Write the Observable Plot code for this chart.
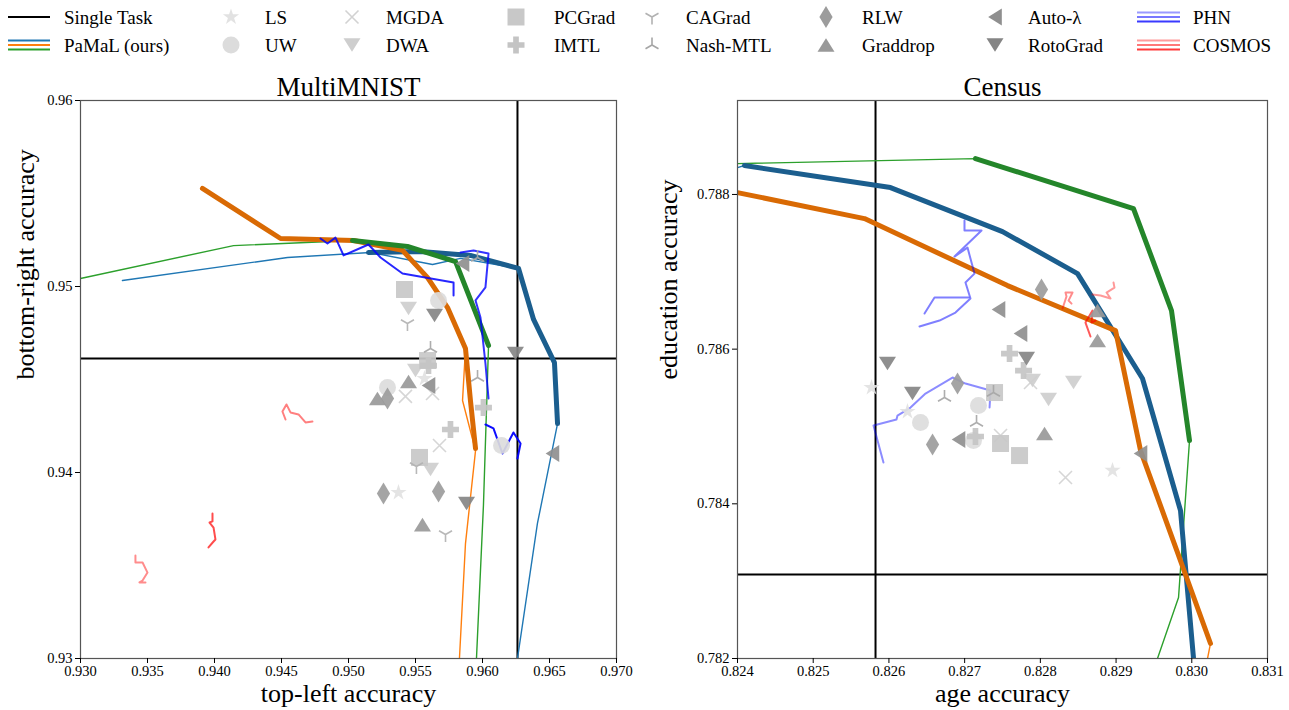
<!DOCTYPE html>
<html><head><meta charset="utf-8">
<script src="https://cdn.jsdelivr.net/npm/d3@7"></script>
<script src="https://cdn.jsdelivr.net/npm/@observablehq/plot@0.6"></script>
<style>
body{margin:0;background:#fff;}
#root{position:relative;width:1289px;height:710px;overflow:hidden;font-family:"Liberation Serif",serif;background:#fff;}
#root svg, #root svg text{font-family:"Liberation Serif",serif !important;}
#legend{position:absolute;left:0;top:0;}
#left{position:absolute;left:0;top:66px;}
#right{position:absolute;left:640px;top:66px;}
</style></head><body>
<div id="root"><div id="legend"></div><div id="left"></div><div id="right"></div></div>
<script>
// ---------------- DATA ----------------
const methods = ["LS","UW","MGDA","DWA","PCGrad","IMTL","CAGrad","Nash-MTL","RLW","Graddrop","Auto-λ","RotoGrad"];

// MultiMNIST: [top-left accuracy, bottom-right accuracy]
const mnistXTicks = [0.930,0.935,0.940,0.945,0.950,0.955,0.960,0.965,0.970];
const mnistYTicks = [0.93,0.94,0.95,0.96];
const mnistSingleTask = [0.96261, 0.94613];
const mnistPamalThinBlue = [[0.93313,0.95032],[0.94545,0.95156],[0.95164,0.95183],[0.95627,0.95118],[0.95836,0.95151],[0.96269,0.95097],[0.96381,0.94823],[0.96537,0.94591],[0.96560,0.94263],[0.96410,0.93726],[0.96261,0.93000]];
const mnistPamalThickBlue = [[0.95149,0.95183],[0.95537,0.95188],[0.95910,0.95167],[0.96269,0.95097],[0.96381,0.94823],[0.96537,0.94591],[0.96560,0.94263]];
const mnistPamalThinOrange = [[0.93910,0.95527],[0.94493,0.95258],[0.95037,0.95247],[0.95403,0.95194],[0.95590,0.95048],[0.95739,0.94887],[0.95873,0.94667],[0.95851,0.94387],[0.95948,0.94118],[0.95873,0.93618],[0.95828,0.93000]];
const mnistPamalThickOrange = [[0.93910,0.95527],[0.94493,0.95258],[0.95037,0.95247],[0.95403,0.95194],[0.95590,0.95048],[0.95739,0.94887],[0.95873,0.94667],[0.95910,0.94387],[0.95948,0.94129]];
const mnistPamalThinGreen = [[0.93000,0.95043],[0.94142,0.95220],[0.95030,0.95247],[0.95440,0.95215],[0.95799,0.95134],[0.96045,0.94683],[0.96007,0.93823],[0.95955,0.93000]];
const mnistPamalThickGreen = [[0.95030,0.95247],[0.95440,0.95215],[0.95799,0.95134],[0.96045,0.94683]];
const mnistPHN1 = [[0.94791,0.95258],[0.94843,0.95231],[0.94903,0.95263],[0.94963,0.95167],[0.95149,0.95226],[0.95239,0.95156],[0.95403,0.95070],[0.95784,0.95022],[0.95784,0.94952]];
const mnistPHN2 = [[0.95836,0.95183],[0.95933,0.95194],[0.96045,0.95177],[0.96022,0.94995],[0.95948,0.94925],[0.95985,0.94833],[0.96022,0.94586],[0.96045,0.94398]];
const mnistPHN3 = [[0.96022,0.94258],[0.96082,0.94237],[0.96149,0.94102],[0.96231,0.94215],[0.96284,0.94156],[0.96261,0.94075]];
const mnistCOSMOS1 = [[0.94530,0.94285],[0.94507,0.94328],[0.94537,0.94366],[0.94567,0.94323],[0.94627,0.94312],[0.94679,0.94269],[0.94731,0.94274]];
const mnistCOSMOS2 = [[0.93985,0.93780],[0.93985,0.93737],[0.93963,0.93731],[0.93993,0.93704],[0.94007,0.93640],[0.93993,0.93629],[0.93955,0.93597]];
const mnistCOSMOS3 = [[0.93410,0.93554],[0.93410,0.93516],[0.93463,0.93516],[0.93500,0.93462],[0.93463,0.93419],[0.93440,0.93409],[0.93485,0.93409]];
const mnistLS = [[0.95373,0.93892],[0.95567,0.94505]];
const mnistUW = [[0.95672,0.94925],[0.95291,0.94457],[0.96142,0.94145]];
const mnistMGDA = [[0.95425,0.94409],[0.95627,0.94425],[0.95679,0.94145]];
const mnistDWA = [[0.95448,0.94882],[0.95500,0.94548],[0.95612,0.94016]];
const mnistPCGrad = [[0.95418,0.94984],[0.95590,0.94602],[0.95530,0.94081]];
const mnistIMTL = [[0.95597,0.94575],[0.95761,0.94231],[0.96007,0.94349]];
const mnistCAGrad = [[0.95440,0.94801],[0.95507,0.94032],[0.95724,0.93667]];
const mnistNash = [[0.95612,0.94667],[0.95963,0.95156],[0.95963,0.94511]];
const mnistRLW = [[0.95291,0.94398],[0.95261,0.93887],[0.95672,0.93898]];
const mnistGraddrop = [[0.95216,0.94398],[0.95448,0.94489],[0.95552,0.93720]];
const mnistAutoL = [[0.95851,0.95124],[0.95597,0.94468],[0.96522,0.94102]];
const mnistRotoGrad = [[0.95642,0.94844],[0.96246,0.94640],[0.95881,0.93833]];

// Census: [age accuracy, education accuracy]
const censusXTicks = [0.824,0.825,0.826,0.827,0.828,0.829,0.830,0.831];
const censusYTicks = [0.782,0.784,0.786,0.788];
const censusSingleTask = [0.825823, 0.783086];
const censusPamalThinBlue = [[0.824000,0.788348],[0.824092,0.788374],[0.826021,0.788089],[0.827500,0.787520],[0.828491,0.786977],[0.829349,0.785620],[0.829851,0.783913],[0.830023,0.782000]];
const censusPamalThickBlue = [[0.824092,0.788374],[0.826021,0.788089],[0.827500,0.787520],[0.828491,0.786977],[0.829349,0.785620],[0.829851,0.783913],[0.830023,0.782000]];
const censusPamalThinOrange = [[0.824000,0.788024],[0.825677,0.787688],[0.827566,0.786822],[0.828993,0.786240],[0.829323,0.784689],[0.830247,0.782194],[0.830208,0.782000]];
const censusPamalThickOrange = [[0.824000,0.788024],[0.825677,0.787688],[0.827566,0.786822],[0.828993,0.786240],[0.829323,0.784689],[0.830247,0.782194]];
const censusPamalThinGreen = [[0.824000,0.788399],[0.827143,0.788464],[0.829230,0.787818],[0.829732,0.786499],[0.829970,0.784818],[0.829825,0.782789],[0.829547,0.782000]];
const censusPamalThickGreen = [[0.827143,0.788464],[0.829230,0.787818],[0.829732,0.786499],[0.829970,0.784818]];
const censusPHN1 = [[0.826998,0.787662],[0.826998,0.787533],[0.827223,0.787533],[0.826866,0.787197],[0.827038,0.787313],[0.827130,0.786977],[0.827011,0.786861],[0.827077,0.786654],[0.826879,0.786473],[0.826668,0.786370],[0.826404,0.786292]];
const censusPHN1b = [[0.826470,0.786460],[0.826602,0.786667],[0.827051,0.786667]];
const censusPHN2 = [[0.825928,0.784534],[0.825796,0.785012],[0.826100,0.785090],[0.826113,0.785141],[0.826285,0.785245],[0.826483,0.785426],[0.826840,0.785633],[0.827011,0.785555],[0.827342,0.785465],[0.827329,0.785245]];
const censusCOSMOS1 = [[0.828293,0.786525],[0.828345,0.786680],[0.828332,0.786732],[0.828425,0.786732],[0.828372,0.786628],[0.828412,0.786589]];
const censusCOSMOS2 = [[0.828662,0.786163],[0.828596,0.786344],[0.828689,0.786499],[0.828676,0.786344],[0.828728,0.786370]];
const censusCOSMOS3 = [[0.828689,0.786706],[0.828795,0.786693],[0.828927,0.786654],[0.828874,0.786732],[0.828979,0.786796],[0.828966,0.786861]];
const censusLS = [[0.825770,0.785504],[0.826245,0.785193],[0.828953,0.784431]];
const censusUW = [[0.826417,0.785051],[0.827183,0.785271],[0.827117,0.784818]];
const censusMGDA = [[0.827474,0.784883],[0.827870,0.785568],[0.828332,0.784340]];
const censusDWA = [[0.827896,0.785594],[0.828108,0.785348],[0.828438,0.785568]];
const censusPCGrad = [[0.827395,0.785439],[0.827474,0.784780],[0.827725,0.784624]];
const censusIMTL = [[0.827593,0.785943],[0.827778,0.785723],[0.827143,0.784870]];
const censusCAGrad = [];
const censusNash = [[0.826734,0.785374],[0.827157,0.785051],[0.827381,0.785439]];
const censusRLW = [[0.826906,0.785555],[0.826576,0.784767],[0.828015,0.786771]];
const censusGraddrop = [[0.828055,0.784909],[0.828755,0.786111],[0.828755,0.786499]];
const censusAutoL = [[0.827447,0.786512],[0.827738,0.786202],[0.826919,0.784831],[0.829323,0.784650]];
const censusRotoGrad = [[0.825981,0.785814],[0.826311,0.785426],[0.827817,0.785878]];

// ---------------- SYMBOLS ----------------
function hOf(size){ return Math.sqrt(size/Math.PI); }
function poly(pts){ return {draw(ctx,size){const h=hOf(size);ctx.moveTo(pts[0][0]*h,pts[0][1]*h);for(let i=1;i<pts.length;i++)ctx.lineTo(pts[i][0]*h,pts[i][1]*h);ctx.closePath();}}; }
function spokes(pts){ return {draw(ctx,size){const h=hOf(size);for(const [a,b] of pts){ctx.moveTo(0,0);ctx.lineTo(a*h,b*h);}}}; }
const starPts = d3.range(10).map(i=>{const a=-Math.PI/2+i*Math.PI/5;const r=i%2?0.382:1;return [r*Math.cos(a),r*Math.sin(a)];});
const SYM = {
  star: poly(starPts),
  circle: {draw(ctx,size){const h=hOf(size);ctx.moveTo(h,0);ctx.arc(0,0,h,0,2*Math.PI);}},
  times: {draw(ctx,size){const h=hOf(size);ctx.moveTo(-h,-h);ctx.lineTo(h,h);ctx.moveTo(-h,h);ctx.lineTo(h,-h);}},
  triDown: poly([[0,0.8],[-1,-0.8],[1,-0.8]]),
  triUp: poly([[0,-0.8],[-1,0.8],[1,0.8]]),
  triLeft: poly([[-0.8,0],[0.8,-1],[0.8,1]]),
  square: poly([[-1,-1],[1,-1],[1,1],[-1,1]]),
  plus: poly([[-1/3,-1],[1/3,-1],[1/3,-1/3],[1,-1/3],[1,1/3],[1/3,1/3],[1/3,1],[-1/3,1],[-1/3,1/3],[-1,1/3],[-1,-1/3],[-1/3,-1/3]]),
  diamond: poly([[0,-1],[0.6,0],[0,1],[-0.6,0]]),
  wye: spokes([[0,1],[-0.866,-0.5],[0.866,-0.5]]),
  lambda: spokes([[0,-1],[-0.866,0.5],[0.866,0.5]])
};
const STYLE = {
  "LS":{sym:SYM.star,color:"#e2e2e2",r:8.5,line:false},
  "UW":{sym:SYM.circle,color:"#dcdcdc",r:8.5,line:false},
  "MGDA":{sym:SYM.times,color:"#d2d2d2",r:6.5,line:true},
  "DWA":{sym:SYM.triDown,color:"#cecece",r:8.5,line:false},
  "PCGrad":{sym:SYM.square,color:"#c8c8c8",r:8.5,line:false},
  "IMTL":{sym:SYM.plus,color:"#c4c4c4",r:8.5,line:false},
  "CAGrad":{sym:SYM.wye,color:"#b2b2b2",r:7.5,line:true},
  "Nash-MTL":{sym:SYM.lambda,color:"#a6a6a6",r:7.5,line:true},
  "RLW":{sym:SYM.diamond,color:"#9c9c9c",r:11,line:false},
  "Graddrop":{sym:SYM.triUp,color:"#999999",r:8.5,line:false},
  "Auto-λ":{sym:SYM.triLeft,color:"#8f8f8f",r:8.5,line:false},
  "RotoGrad":{sym:SYM.triDown,color:"#858585",r:8.5,line:false}
};
const C = {thinBlue:"#1f77b4",thinOrange:"#ff7f0e",thinGreen:"#2ca02c",thickBlue:"#1b5e8e",thickOrange:"#d96a04",thickGreen:"#24862a"};
const FONT = "Liberation Serif, serif";

// ---------------- PANELS ----------------
const X = d => d[0], Y = d => d[1];
function panel(cfg){
  const ln = (data, stroke, sw, op=1) => Plot.line(data, {x:X, y:Y, stroke, strokeWidth:sw, strokeOpacity:op, clip:true, strokeLinejoin:"round"});
  const txt = {fontFamily:FONT, fill:"black"};
  const marks = [
    Plot.ruleX([cfg.single[0]], {stroke:"black", strokeWidth:2}),
    Plot.ruleY([cfg.single[1]], {stroke:"black", strokeWidth:2}),
    ln(cfg.thinBlue, C.thinBlue, 1.4), ln(cfg.thinOrange, C.thinOrange, 1.4), ln(cfg.thinGreen, C.thinGreen, 1.4),
    ln(cfg.thickBlue, C.thickBlue, 5), ln(cfg.thickOrange, C.thickOrange, 5), ln(cfg.thickGreen, C.thickGreen, 5),
    ...cfg.phn.map(([d,op]) => ln(d, "#0000ff", 2, op)),
    ...cfg.cosmos.map(([d,op]) => ln(d, "#ff0000", 2, op)),
    ...methods.map((m,i) => {
      const s = STYLE[m];
      return Plot.dot(cfg.points[i], {x:X, y:Y, symbol:s.sym, r:s.r,
        fill: s.line ? "none" : s.color, stroke: s.line ? s.color : "none", strokeWidth: s.line ? 1.6 : 0, opacity:0.92});
    }),
    Plot.frame({stroke:"#555", strokeWidth:1.2}),
    Plot.axisX({ticks:cfg.xTicks, tickFormat:cfg.xFmt, tickSize:5, tickPadding:2, fontSize:14.5, label:null, stroke:"black", fontFamily:FONT}),
    Plot.axisY({ticks:cfg.yTicks, tickFormat:cfg.yFmt, tickSize:5, tickPadding:3, fontSize:14.5, label:null, stroke:"black", fontFamily:FONT}),
    Plot.text([cfg.title], {...txt, text:d=>d, frameAnchor:"top", dy:-5, lineAnchor:"bottom", fontSize:27}),
    Plot.text([cfg.xLabel], {...txt, text:d=>d, frameAnchor:"bottom", dy:43, fontSize:26}),
    Plot.text([cfg.yLabel], {...txt, text:d=>d, frameAnchor:"left", dx:cfg.yLabelDx, rotate:-90, fontSize:26})
  ];
  return Plot.plot({
    width:cfg.width, height:644, marginLeft:cfg.ml, marginRight:cfg.mr, marginTop:34, marginBottom:52,
    x:{domain:cfg.xDomain}, y:{domain:cfg.yDomain},
    style:"font-family: 'Liberation Serif', serif; background: white; color: black; overflow: visible;",
    marks
  });
}

document.getElementById("left").append(panel({
  width:640, ml:80, mr:24, xDomain:[0.93,0.97], yDomain:[0.93,0.96],
  xTicks:mnistXTicks, yTicks:mnistYTicks, xFmt:d3.format(".3f"), yFmt:d3.format(".2f"),
  single:mnistSingleTask,
  thinBlue:mnistPamalThinBlue, thinOrange:mnistPamalThinOrange, thinGreen:mnistPamalThinGreen,
  thickBlue:mnistPamalThickBlue, thickOrange:mnistPamalThickOrange, thickGreen:mnistPamalThickGreen,
  phn:[[mnistPHN1,0.85],[mnistPHN2,0.8],[mnistPHN3,0.95]],
  cosmos:[[mnistCOSMOS1,0.5],[mnistCOSMOS2,0.7],[mnistCOSMOS3,0.45]],
  points:[mnistLS,mnistUW,mnistMGDA,mnistDWA,mnistPCGrad,mnistIMTL,mnistCAGrad,mnistNash,mnistRLW,mnistGraddrop,mnistAutoL,mnistRotoGrad],
  title:"MultiMNIST", xLabel:"top-left accuracy", yLabel:"bottom-right accuracy", yLabelDx:-55
}));

document.getElementById("right").append(panel({
  width:649, ml:97, mr:22, xDomain:[0.824,0.831], yDomain:[0.782,0.789215],
  xTicks:censusXTicks, yTicks:censusYTicks, xFmt:d3.format(".3f"), yFmt:d3.format(".3f"),
  single:censusSingleTask,
  thinBlue:censusPamalThinBlue, thinOrange:censusPamalThinOrange, thinGreen:censusPamalThinGreen,
  thickBlue:censusPamalThickBlue, thickOrange:censusPamalThickOrange, thickGreen:censusPamalThickGreen,
  phn:[[censusPHN1,0.5],[censusPHN1b,0.5],[censusPHN2,0.45]],
  cosmos:[[censusCOSMOS1,0.45],[censusCOSMOS2,0.65],[censusCOSMOS3,0.4]],
  points:[censusLS,censusUW,censusMGDA,censusDWA,censusPCGrad,censusIMTL,censusCAGrad,censusNash,censusRLW,censusGraddrop,censusAutoL,censusRotoGrad],
  title:"Census", xLabel:"age accuracy", yLabel:"education accuracy", yLabelDx:-69
}));

// ---------------- LEGEND ----------------
const lg = d3.create("svg").attr("width",1289).attr("height",66)
  .style("font-family","'Liberation Serif', serif").style("font-size","19px").style("display","block");
const rows = [17,45];
function lines(x0,x1,y,colors){ colors.forEach((c,i)=>{ const yy = y + (i-(colors.length-1)/2)*4.5;
  lg.append("line").attr("x1",x0).attr("x2",x1).attr("y1",yy).attr("y2",yy).attr("stroke",c).attr("stroke-width",2); }); }
function label(x,y,t){ lg.append("text").attr("x",x).attr("y",y).attr("dominant-baseline","central").attr("fill","black").text(t); }
lines(8,50,rows[0],["black"]); label(64,rows[0],"Single Task");
lines(8,50,rows[1],[C.thinBlue,C.thinOrange,C.thinGreen]); label(64,rows[1],"PaMaL (ours)");
const cols = [[231,265],[352,386],[516,554],[652,686],[826,862],[995,1028]];
methods.forEach((m,i)=>{
  const [mx,tx] = cols[Math.floor(i/2)]; const y = rows[i%2]; const s = STYLE[m];
  lg.append("path").attr("transform",`translate(${mx},${y})`).attr("d", d3.symbol(s.sym, s.r*s.r*Math.PI)())
    .attr("fill", s.line ? "none" : s.color).attr("stroke", s.line ? s.color : "none").attr("stroke-width",1.6);
  label(tx,y,m);
});
lines(1137,1180,rows[0],["#9a9aff","#7777ff","#3a3aff"]); label(1193,rows[0],"PHN");
lines(1137,1180,rows[1],["#ff9a9a","#ff7777","#ff3a3a"]); label(1193,rows[1],"COSMOS");
document.getElementById("legend").append(lg.node());
</script>
</body></html>
